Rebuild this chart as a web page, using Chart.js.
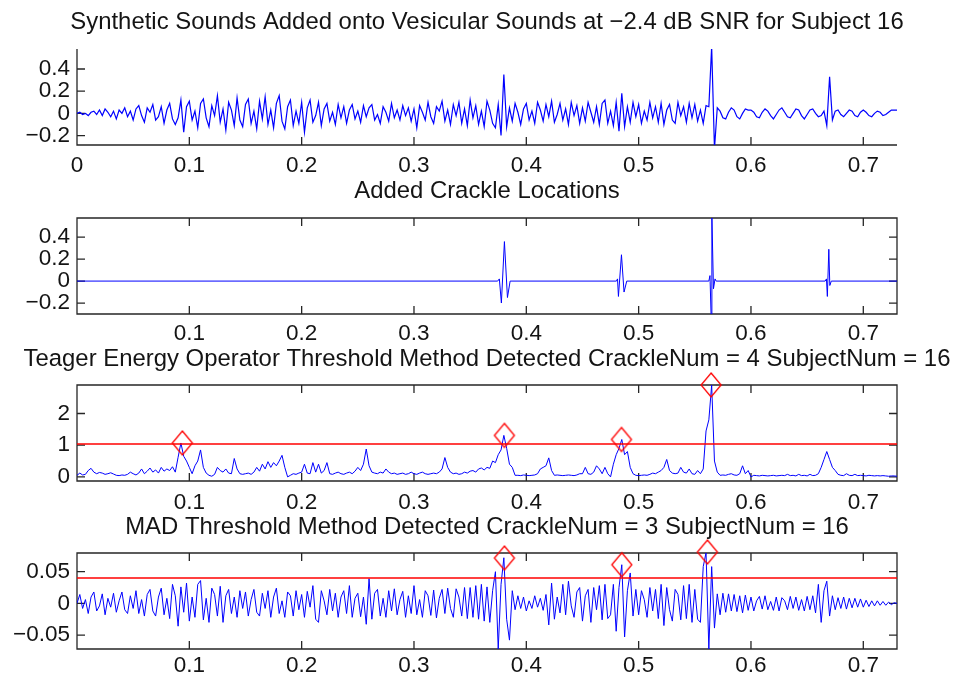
<!DOCTYPE html>
<html>
<head>
<meta charset="utf-8">
<title>Crackle detection, subject 16</title>
<script src="https://cdn.jsdelivr.net/npm/chart.js@4.4.1/dist/chart.umd.min.js"></script>
<style>
  body { margin: 0; background: #fff; }
  #wrap { position: relative; width: 958px; height: 681px; }
  #wrap canvas { position: absolute; left: 0; }
</style>
</head>
<body>
<div id="wrap">
  <canvas id="cMix" width="958" height="175" style="top:0"></canvas>
  <canvas id="cCrackle" width="958" height="168" style="top:175px"></canvas>
  <canvas id="cTeo" width="958" height="170" style="top:343px"></canvas>
  <canvas id="cMad" width="958" height="168" style="top:513px"></canvas>
</div>
<script>
// sample spacing of the traces below (seconds)
const dt = 0.0025;

const xTicksFirst = [0, 0.1, 0.2, 0.3, 0.4, 0.5, 0.6, 0.7];
const xTicks = [0.1, 0.2, 0.3, 0.4, 0.5, 0.6, 0.7];
const yTicksSound = [-0.2, 0, 0.2, 0.4];
const yTicksTeo = [0, 1, 2];
const yTicksMad = [-0.05, 0, 0.05];

const titles = [
  "Synthetic Sounds Added onto Vesicular Sounds at \u22122.4 dB SNR for Subject 16",
  "Added Crackle Locations",
  "Teager Energy Operator Threshold Method Detected CrackleNum = 4 SubjectNum = 16",
  "MAD Threshold Method Detected CrackleNum = 3 SubjectNum = 16"
];

// vesicular sound with the synthetic crackles mixed in, one row = 0.05 s
const mixed = [
  0, 0.01, -0.01, 0.00, -0.02, 0.01, 0.02, -0.01, 0.03, -0.02, 0.04, 0.01, -0.03, 0.02, -0.05, 0.03, 0.00, 0.05, -0.03, 0.02,
  -0.06, 0.04, 0.07, -0.02, -0.08, 0.05, 0.01, 0.08, -0.06, -0.03, 0.06, -0.09, 0.03, 0.09, -0.05, -0.10, -0.04, 0.12, -0.17, 0.06,
  0.11, -0.06, 0.02, -0.13, 0.09, 0.13, -0.04, -0.12, 0.07, -0.02, 0.16, -0.08, 0.04, -0.15, 0.10, 0.03, -0.11, 0.14, -0.06, -0.12,
  0.08, 0.13, -0.09, 0.02, -0.14, 0.11, -0.05, 0.15, -0.10, 0.03, -0.13, 0.09, 0.16, -0.07, -0.14, 0.06, 0.12, -0.11, 0.02, -0.09,
  0.10, -0.17, 0.05, 0.12, -0.08, -0.02, 0.10, -0.11, 0.04, 0.09, -0.07, 0.01, -0.10, 0.08, -0.04, 0.06, -0.09, 0.03, 0.08, -0.05,
  0.02, -0.08, 0.07, -0.03, 0.05, 0.08, -0.06, -0.01, -0.09, 0.06, 0.01, -0.07, 0.09, -0.04, 0.03, -0.06, 0.07, -0.02, 0.05, -0.07,
  0.04, -0.13, 0.07, 0.01, -0.06, 0.10, -0.03, -0.09, 0.06, 0.02, 0.11, -0.07, 0.03, -0.10, 0.08, -0.02, 0.10, -0.09, 0.04, -0.11,
  0.12, -0.04, 0.07, -0.10, 0.02, -0.12, 0.11, 0.03, -0.09, -0.13, 0.08, -0.20, 0.35, -0.12, 0.05, -0.07, 0.09, 0.01, -0.10, 0.04,
  0.09, -0.06, 0.02, -0.09, 0.10, 0.03, -0.07, 0.08, -0.03, 0.11, -0.08, -0.01, 0.09, -0.06, 0.04, -0.10, 0.10, -0.02, 0.07, -0.09,
  0.05, -0.07, 0.10, 0.01, -0.08, 0.06, -0.10, 0.09, 0.12, -0.09, 0.02, -0.11, 0.10, -0.16, 0.18, -0.12, 0.06, -0.08, 0.10, -0.03,
  0.08, -0.09, 0.02, -0.06, 0.10, -0.04, 0.06, -0.08, 0.09, -0.10, 0.03, 0.08, -0.06, -0.09, 0.10, -0.02, 0.06, -0.08, 0.09, -0.04,
  0.08, -0.07, 0.03, -0.09, 0.07, 0.06, 0.60, -0.32, 0.05, 0.02, -0.04, -0.05, 0.01, 0.05, 0.03, -0.03, -0.05, 0.00, 0.04, 0.03,
  0.03, 0.01, -0.03, -0.04, 0.01, 0.04, 0.02, -0.02, -0.05, -0.01, 0.03, 0.05, 0.01, -0.03, -0.04, 0.00, 0.04, 0.03, -0.02, -0.05,
  -0.01, 0.03, 0.04, 0.00, -0.03, -0.02, 0.02, -0.11, 0.33, -0.06, 0.02, 0.03, -0.01, -0.03, 0.00, 0.03, 0.02, -0.02, -0.03, 0.01,
  0.03, 0.01, -0.02, -0.03, 0.00, 0.02, 0.01, -0.02, -0.01, 0.01, 0.03, 0.03, 0.03
];

// the four added crackles on their own (break points of the waveform)
const crackleT = [0, 0.3745, 0.376, 0.3778, 0.3805, 0.3832, 0.3856,
  0.4802, 0.4812, 0.482, 0.4847, 0.487, 0.4894,
  0.5625, 0.5635, 0.5645, 0.5652, 0.5666, 0.568, 0.569,
  0.666, 0.6672, 0.668, 0.6693, 0.6702, 0.6715, 0.73];
const crackleV = [0, 0, 0.02, -0.2, 0.36, -0.15, 0,
  0, 0.02, -0.14, 0.24, -0.1, 0,
  0, 0.05, -0.32, 0.6, -0.07, 0.02, 0,
  0, 0.02, -0.14, 0.29, -0.04, 0, 0];

// Teager energy of the mixed signal
const teo = [
  0.05, 0.12, 0.06, 0.08, 0.20, 0.27, 0.15, 0.10, 0.14, 0.12, 0.08, 0.10, 0.13, 0.09, 0.05, 0.04, 0.06, 0.05, 0.08, 0.15,
  0.10, 0.06, 0.12, 0.25, 0.10, 0.18, 0.28, 0.15, 0.22, 0.12, 0.30, 0.18, 0.25, 0.20, 0.32, 0.15, 0.62, 1.07, 0.65, 0.50,
  0.30, 0.10, 0.35, 0.50, 0.85, 0.30, 0.12, 0.05, 0.02, 0.08, 0.30, 0.20, 0.15, 0.25, 0.12, 0.10, 0.58, 0.25, 0.10, 0.08,
  0.10, 0.12, 0.08, 0.15, 0.30, 0.18, 0.40, 0.25, 0.48, 0.30, 0.45, 0.35, 0.50, 0.68, 0.30, 0.00, 0.05, 0.10, 0.08, 0.12,
  0.15, 0.40, 0.12, 0.10, 0.45, 0.15, 0.40, 0.12, 0.20, 0.45, 0.10, 0.08, 0.12, 0.15, 0.10, 0.08, 0.12, 0.15, 0.10, 0.18,
  0.30, 0.20, 0.40, 0.88, 0.35, 0.15, 0.12, 0.10, 0.15, 0.12, 0.25, 0.15, 0.10, 0.12, 0.08, 0.10, 0.12, 0.08, 0.10, 0.15,
  0.10, 0.08, 0.12, 0.15, 0.10, 0.08, 0.10, 0.12, 0.10, 0.15, 0.25, 0.61, 0.30, 0.15, 0.10, 0.12, 0.08, 0.10, 0.15, 0.12,
  0.18, 0.20, 0.15, 0.25, 0.28, 0.22, 0.30, 0.27, 0.50, 0.45, 0.70, 0.85, 1.31, 0.90, 0.40, 0.30, 0.05, 0.05, 0.04, 0.06,
  0.05, 0.04, 0.05, 0.06, 0.10, 0.25, 0.30, 0.35, 0.60, 0.20, 0.05, 0.06, 0.05, 0.04, 0.05, 0.06, 0.05, 0.04, 0.06, 0.10,
  0.10, 0.30, 0.10, 0.08, 0.15, 0.35, 0.25, 0.10, 0.30, 0.10, 0.00, 0.40, 0.70, 0.90, 1.18, 0.70, 0.80, 0.30, 0.10, 0.05,
  0.04, 0.05, 0.06, 0.05, 0.08, 0.12, 0.10, 0.15, 0.20, 0.30, 0.55, 0.20, 0.12, 0.10, 0.12, 0.30, 0.15, 0.12, 0.25, 0.10,
  0.08, 0.20, 0.10, 0.25, 1.45, 1.80, 2.90, 0.50, 0.15, 0.05, 0.06, 0.05, 0.08, 0.10, 0.06, 0.05, 0.10, 0.35, 0.10, 0.20,
  0.00, 0.05, 0.04, 0.03, 0.05, 0.04, 0.03, 0.04, 0.05, 0.03, 0.04, 0.05, 0.04, 0.08, 0.04, 0.05, 0.03, 0.08, 0.04, 0.05,
  0.03, 0.08, 0.04, 0.05, 0.10, 0.30, 0.55, 0.80, 0.55, 0.30, 0.20, 0.08, 0.05, 0.04, 0.10, 0.05, 0.04, 0.08, 0.04, 0.05,
  0.04, 0.03, 0.05, 0.04, 0.03, 0.04, 0.03, 0.04, 0.03, 0.02, 0.03, 0.03, 0.02
];
const teoThreshold = 1.04;
const teoPeakT = [0.0938, 0.3805, 0.4847, 0.5645];
const teoPeakV = [1.07, 1.31, 1.18, 2.90];

// band-passed signal used by the MAD detector
const mad = [
  0.000, 0.014, -0.008, 0.006, -0.016, 0.010, 0.018, -0.012, -0.004, 0.015, -0.018, 0.008, -0.006, 0.016, -0.014, 0.004, 0.018, -0.010, -0.016, 0.012,
  -0.008, 0.020, -0.016, 0.006, -0.020, 0.014, 0.022, -0.012, -0.020, 0.010, 0.024, -0.018, 0.008, -0.024, 0.030, 0.012, -0.036, 0.026, -0.014, 0.032,
  -0.028, 0.010, -0.022, 0.030, 0.036, -0.026, 0.008, -0.030, 0.024, 0.014, -0.020, 0.027, -0.030, 0.012, 0.022, -0.016, 0.010, -0.022, 0.020, -0.008,
  0.018, -0.020, 0.006, 0.022, -0.014, -0.020, 0.016, -0.008, 0.020, -0.022, 0.010, 0.024, -0.016, 0.004, -0.022, 0.018, 0.012, -0.020, 0.020, -0.010,
  0.014, -0.022, 0.019, -0.006, 0.028, -0.025, -0.030, 0.020, 0.004, -0.018, 0.022, -0.012, 0.016, -0.022, 0.010, 0.020, -0.016, 0.028, -0.022, 0.008,
  0.016, -0.021, 0.010, -0.033, 0.039, -0.025, 0.016, 0.022, -0.020, 0.008, -0.022, 0.020, -0.012, 0.023, -0.018, 0.006, 0.019, -0.022, 0.012, -0.016,
  0.028, -0.018, 0.006, -0.022, 0.020, 0.012, -0.019, 0.021, -0.023, 0.008, 0.022, -0.016, 0.024, -0.008, -0.022, 0.023, 0.010, -0.020, 0.025, -0.024,
  0.025, -0.022, 0.028, -0.025, 0.030, -0.028, 0.026, -0.030, 0.020, 0.050, -0.072, 0.030, 0.072, -0.025, -0.058, 0.020, -0.010, 0.012, -0.008, 0.010,
  -0.012, 0.004, -0.008, 0.012, -0.006, 0.008, -0.011, 0.014, -0.034, 0.032, -0.025, 0.010, -0.015, 0.030, -0.018, 0.035, -0.004, -0.022, 0.018, 0.025,
  -0.028, 0.012, 0.022, -0.030, 0.025, -0.010, 0.028, -0.026, 0.030, -0.024, -0.018, 0.030, -0.044, 0.025, 0.061, -0.053, 0.020, 0.048, -0.020, 0.022,
  -0.018, 0.020, 0.006, -0.022, 0.025, -0.012, 0.022, -0.024, 0.030, -0.035, 0.025, -0.010, -0.028, 0.022, 0.014, -0.026, 0.028, -0.024, 0.030, -0.030,
  0.022, -0.025, -0.030, 0.058, 0.080, -0.072, 0.058, -0.039, 0.015, -0.018, 0.016, -0.014, 0.015, -0.012, 0.014, -0.013, 0.012, -0.015, 0.013, -0.011,
  0.010, -0.012, 0.004, 0.011, -0.009, 0.012, -0.010, 0.003, -0.011, 0.010, -0.012, 0.009, 0.004, -0.010, 0.011, -0.008, 0.010, -0.011, 0.006, -0.012,
  0.011, -0.010, 0.012, -0.015, 0.030, -0.030, 0.020, 0.035, -0.020, 0.012, -0.010, 0.009, -0.008, 0.010, -0.009, 0.008, -0.007, 0.008, -0.006, 0.007,
  -0.006, 0.005, -0.005, 0.004, -0.004, 0.004, -0.003, 0.003, -0.003, 0.002, -0.002, 0.001, 0.000
];
const madThreshold = 0.04;
const madPeakT = [0.3805, 0.485, 0.5612];
const madPeakV = [0.0716, 0.061, 0.081];

const FONT = '"Liberation Sans", Arial, sans-serif';
const BLUE = "#0000ff";
const RED = "#ff0000";
const INK = "#141414";

function fmt(v) {
  return String(Math.round(v * 1000) / 1000).replace("-", "\u2212");
}

function sampleTimes(values) {
  return values.map((_, i) => i * dt);
}

function toXY(times, values) {
  return values.map((v, i) => ({ x: times[i], y: v }));
}

// open red diamond, a bit taller than wide
function diamondMark(w, h) {
  const c = document.createElement("canvas");
  c.width = w + 4;
  c.height = h + 4;
  const g = c.getContext("2d");
  g.strokeStyle = RED;
  g.lineWidth = 1.3;
  g.beginPath();
  g.moveTo(c.width / 2, 2);
  g.lineTo(c.width - 2, c.height / 2);
  g.lineTo(c.width / 2, c.height - 2);
  g.lineTo(2, c.height / 2);
  g.closePath();
  g.stroke();
  return c;
}
const diamond = diamondMark(20, 24);

// frame with inward ticks, plus the title over each panel
const axesPlugin = {
  id: "matlabAxes",
  beforeDatasetsDraw(chart, args, opts) {
    const { ctx, chartArea: a, scales: { x, y } } = chart;
    ctx.save();
    ctx.strokeStyle = "#262626";
    ctx.lineWidth = 1.3;
    ctx.beginPath();
    if (opts.box) {
      ctx.rect(a.left, a.top, a.right - a.left, a.bottom - a.top);
    } else {
      ctx.moveTo(a.left, a.top);
      ctx.lineTo(a.left, a.bottom);
      ctx.lineTo(a.right, a.bottom);
    }
    x.ticks.forEach(t => {
      const px = x.getPixelForValue(t.value);
      ctx.moveTo(px, a.bottom);
      ctx.lineTo(px, a.bottom - 8);
      if (opts.box) {
        ctx.moveTo(px, a.top);
        ctx.lineTo(px, a.top + 8);
      }
    });
    y.ticks.forEach(t => {
      const py = y.getPixelForValue(t.value);
      ctx.moveTo(a.left, py);
      ctx.lineTo(a.left + 8, py);
      if (opts.box) {
        ctx.moveTo(a.right, py);
        ctx.lineTo(a.right - 8, py);
      }
    });
    ctx.stroke();
    ctx.restore();
  },
  afterDraw(chart, args, opts) {
    const { ctx, chartArea: a } = chart;
    ctx.save();
    ctx.font = "23.9px " + FONT;
    ctx.fillStyle = INK;
    ctx.textAlign = "center";
    ctx.textBaseline = "alphabetic";
    ctx.fillText(opts.title, (a.left + a.right) / 2, opts.titleY);
    ctx.restore();
  }
};

function makeChart(id, cfg) {
  const tickFont = { family: FONT, size: 22.5 };
  return new Chart(document.getElementById(id), {
    type: "line",
    data: { datasets: cfg.datasets },
    plugins: [axesPlugin],
    options: {
      responsive: false,
      animation: false,
      events: [],
      layout: { padding: { top: cfg.top, right: 61, left: 0, bottom: 0 } },
      elements: { point: { radius: 0 }, line: { tension: 0 } },
      plugins: {
        legend: { display: false },
        tooltip: { enabled: false },
        matlabAxes: { box: cfg.box, title: cfg.title, titleY: cfg.titleY }
      },
      scales: {
        x: {
          type: "linear",
          min: 0,
          max: 0.73,
          grid: { display: false, drawTicks: false },
          border: { display: false },
          afterBuildTicks: s => { s.ticks = cfg.xTicks.map(v => ({ value: v })); },
          afterFit: s => { s.height = cfg.xHeight; },
          ticks: { autoSkip: false, maxRotation: 0, padding: cfg.xPad, color: INK, font: tickFont, callback: fmt }
        },
        y: {
          type: "linear",
          min: cfg.yMin,
          max: cfg.yMax,
          grid: { display: false, drawTicks: false },
          border: { display: false },
          afterBuildTicks: s => { s.ticks = cfg.yTicks.map(v => ({ value: v })); },
          afterFit: s => { s.width = 77; },
          ticks: { autoSkip: false, padding: 7, color: INK, font: tickFont, callback: fmt }
        }
      }
    }
  });
}

function thresholdLine(level) {
  return {
    data: [{ x: 0, y: level }, { x: 0.73, y: level }],
    borderColor: RED,
    borderWidth: 1.5,
    pointRadius: 0
  };
}

function peakMarks(times, values) {
  return {
    data: toXY(times, values),
    showLine: false,
    pointStyle: diamond,
    pointRadius: 10,
    clip: false
  };
}

function trace(times, values, width) {
  return {
    data: toXY(times, values),
    borderColor: BLUE,
    borderWidth: width || 1,
    pointRadius: 0
  };
}

makeChart("cMix", {
  datasets: [trace(sampleTimes(mixed), mixed, 1.2)],
  xTicks: xTicksFirst, yTicks: yTicksSound, yMin: -0.285, yMax: 0.58,
  top: 49, xHeight: 30, xPad: 7, box: false, title: titles[0], titleY: 29
});

makeChart("cCrackle", {
  datasets: [trace(crackleT, crackleV)],
  xTicks: xTicks, yTicks: yTicksSound, yMin: -0.30, yMax: 0.575,
  top: 43, xHeight: 29, xPad: 6.5, box: true, title: titles[1], titleY: 23
});

makeChart("cTeo", {
  datasets: [peakMarks(teoPeakT, teoPeakV), thresholdLine(teoThreshold), trace(sampleTimes(teo), teo)],
  xTicks: xTicks, yTicks: yTicksTeo, yMin: -0.13, yMax: 2.9,
  top: 42, xHeight: 32, xPad: 8, box: true, title: titles[2], titleY: 23
});

makeChart("cMad", {
  datasets: [peakMarks(madPeakT, madPeakV), thresholdLine(madThreshold), trace(sampleTimes(mad), mad)],
  xTicks: xTicks, yTicks: yTicksMad, yMin: -0.072, yMax: 0.0795,
  top: 40, xHeight: 32, xPad: 3.5, box: true, title: titles[3], titleY: 20.5
});
</script>
</body>
</html>
